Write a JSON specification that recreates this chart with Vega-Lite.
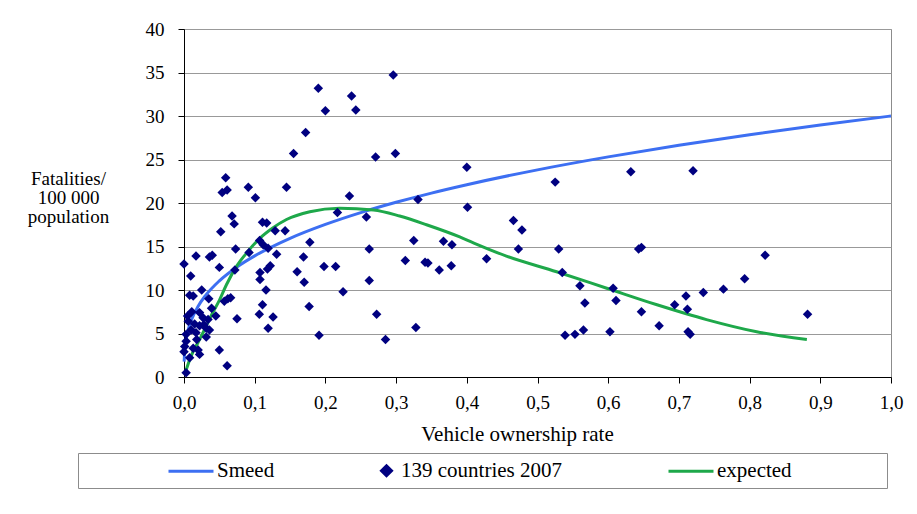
{
  "$schema": "https://vega.github.io/schema/vega-lite/v6.json",
  "width": 707,
  "height": 348,
  "autosize": "none",
  "padding": {"left": 184, "top": 29, "right": 26, "bottom": 137},
  "background": "white",
  "config": {
    "font": "Liberation Serif",
    "view": {"stroke": "#8c8c8c", "strokeWidth": 1},
    "axis": {
      "labelFont": "Liberation Serif",
      "titleFont": "Liberation Serif",
      "labelColor": "black",
      "titleColor": "black",
      "titleFontWeight": "normal",
      "domainColor": "black",
      "tickColor": "black",
      "tickSize": 6
    }
  },
  "datasets": {
    "smeed": [
      {"rate": 0.0002, "fatalities": 1.76},
      {"rate": 0.001, "fatalities": 3.0},
      {"rate": 0.003, "fatalities": 4.33},
      {"rate": 0.006, "fatalities": 5.45},
      {"rate": 0.01, "fatalities": 6.46},
      {"rate": 0.02, "fatalities": 8.14},
      {"rate": 0.03, "fatalities": 9.32},
      {"rate": 0.05, "fatalities": 11.05},
      {"rate": 0.075, "fatalities": 12.65},
      {"rate": 0.1, "fatalities": 13.92},
      {"rate": 0.15, "fatalities": 15.94},
      {"rate": 0.2, "fatalities": 17.54},
      {"rate": 0.25, "fatalities": 18.9},
      {"rate": 0.3, "fatalities": 20.08},
      {"rate": 0.35, "fatalities": 21.14},
      {"rate": 0.4, "fatalities": 22.1},
      {"rate": 0.5, "fatalities": 23.81},
      {"rate": 0.6, "fatalities": 25.3},
      {"rate": 0.7, "fatalities": 26.64},
      {"rate": 0.8, "fatalities": 27.85},
      {"rate": 0.9, "fatalities": 28.96},
      {"rate": 1.0, "fatalities": 30.0}
    ],
    "expected": [
      {"rate": 0.003, "fatalities": 0.8},
      {"rate": 0.01, "fatalities": 2.4},
      {"rate": 0.02, "fatalities": 4.0},
      {"rate": 0.03, "fatalities": 5.6},
      {"rate": 0.04, "fatalities": 7.3},
      {"rate": 0.05, "fatalities": 8.8},
      {"rate": 0.06, "fatalities": 10.6},
      {"rate": 0.075, "fatalities": 12.8},
      {"rate": 0.09, "fatalities": 14.4},
      {"rate": 0.108, "fatalities": 16.0},
      {"rate": 0.125, "fatalities": 17.1},
      {"rate": 0.145, "fatalities": 18.1},
      {"rate": 0.178, "fatalities": 19.0},
      {"rate": 0.22, "fatalities": 19.4},
      {"rate": 0.268, "fatalities": 19.2},
      {"rate": 0.305, "fatalities": 18.5},
      {"rate": 0.343, "fatalities": 17.5},
      {"rate": 0.39, "fatalities": 16.1},
      {"rate": 0.41, "fatalities": 15.4},
      {"rate": 0.456, "fatalities": 13.9},
      {"rate": 0.527, "fatalities": 12.1},
      {"rate": 0.598, "fatalities": 10.2},
      {"rate": 0.669, "fatalities": 8.3},
      {"rate": 0.739, "fatalities": 6.6},
      {"rate": 0.81, "fatalities": 5.2},
      {"rate": 0.881, "fatalities": 4.3}
    ],
    "countries": [
      {"rate": 0.296, "fatalities": 34.7}, {"rate": 0.19, "fatalities": 33.2}, {"rate": 0.237, "fatalities": 32.3},
      {"rate": 0.2, "fatalities": 30.6}, {"rate": 0.243, "fatalities": 30.7}, {"rate": 0.172, "fatalities": 28.1},
      {"rate": 0.155, "fatalities": 25.7}, {"rate": 0.271, "fatalities": 25.3}, {"rate": 0.299, "fatalities": 25.7},
      {"rate": 0.059, "fatalities": 22.9}, {"rate": 0.054, "fatalities": 21.2}, {"rate": 0.061, "fatalities": 21.5},
      {"rate": 0.091, "fatalities": 21.8}, {"rate": 0.101, "fatalities": 20.6}, {"rate": 0.145, "fatalities": 21.8},
      {"rate": 0.234, "fatalities": 20.8}, {"rate": 0.331, "fatalities": 20.4}, {"rate": 0.068, "fatalities": 18.5},
      {"rate": 0.071, "fatalities": 17.6}, {"rate": 0.052, "fatalities": 16.7}, {"rate": 0.111, "fatalities": 17.8},
      {"rate": 0.117, "fatalities": 17.7}, {"rate": 0.129, "fatalities": 16.8}, {"rate": 0.143, "fatalities": 16.8},
      {"rate": 0.217, "fatalities": 18.9}, {"rate": 0.258, "fatalities": 18.4}, {"rate": 0.325, "fatalities": 15.7},
      {"rate": 0.367, "fatalities": 15.6}, {"rate": 0.379, "fatalities": 15.2}, {"rate": 0.178, "fatalities": 15.5},
      {"rate": 0.107, "fatalities": 15.7}, {"rate": 0.112, "fatalities": 15.2}, {"rate": 0.119, "fatalities": 14.8},
      {"rate": 0.131, "fatalities": 14.1}, {"rate": 0.092, "fatalities": 14.3}, {"rate": 0.073, "fatalities": 14.7},
      {"rate": 0.169, "fatalities": 13.8}, {"rate": 0.262, "fatalities": 14.7}, {"rate": 0.313, "fatalities": 13.4},
      {"rate": 0.341, "fatalities": 13.2}, {"rate": 0.345, "fatalities": 13.1}, {"rate": 0.361, "fatalities": 12.3},
      {"rate": 0.378, "fatalities": 12.8}, {"rate": 0.072, "fatalities": 12.3}, {"rate": 0.1075, "fatalities": 12.0},
      {"rate": 0.118, "fatalities": 12.4}, {"rate": 0.122, "fatalities": 12.8}, {"rate": 0.16, "fatalities": 12.1},
      {"rate": 0.198, "fatalities": 12.7}, {"rate": 0.2145, "fatalities": 12.7}, {"rate": 0.17, "fatalities": 10.9},
      {"rate": 0.262, "fatalities": 11.1}, {"rate": 0.1075, "fatalities": 11.2}, {"rate": 0.116, "fatalities": 10.0},
      {"rate": 0.225, "fatalities": 9.8}, {"rate": 0.062, "fatalities": 9.0}, {"rate": 0.066, "fatalities": 9.1},
      {"rate": 0.057, "fatalities": 8.7}, {"rate": 0.111, "fatalities": 8.3}, {"rate": 0.177, "fatalities": 8.1},
      {"rate": 0.1065, "fatalities": 7.2}, {"rate": 0.126, "fatalities": 6.9}, {"rate": 0.2725, "fatalities": 7.2},
      {"rate": 0.119, "fatalities": 5.6}, {"rate": 0.328, "fatalities": 5.7}, {"rate": 0.191, "fatalities": 4.8},
      {"rate": 0.285, "fatalities": 4.3},
      {"rate": 0.0, "fatalities": 13.0}, {"rate": 0.017, "fatalities": 13.9}, {"rate": 0.036, "fatalities": 13.8},
      {"rate": 0.04, "fatalities": 14.0}, {"rate": 0.05, "fatalities": 12.6}, {"rate": 0.0095, "fatalities": 11.6},
      {"rate": 0.025, "fatalities": 10.0}, {"rate": 0.008, "fatalities": 9.4}, {"rate": 0.013, "fatalities": 9.3},
      {"rate": 0.035, "fatalities": 9.0}, {"rate": 0.039, "fatalities": 7.9}, {"rate": 0.011, "fatalities": 7.5},
      {"rate": 0.075, "fatalities": 6.7}, {"rate": 0.022, "fatalities": 7.4}, {"rate": 0.027, "fatalities": 6.8},
      {"rate": 0.034, "fatalities": 6.6}, {"rate": 0.006, "fatalities": 6.4}, {"rate": 0.015, "fatalities": 6.1},
      {"rate": 0.022, "fatalities": 5.9}, {"rate": 0.0315, "fatalities": 5.6}, {"rate": 0.036, "fatalities": 5.4},
      {"rate": 0.01, "fatalities": 5.4}, {"rate": 0.003, "fatalities": 4.9}, {"rate": 0.017, "fatalities": 5.1},
      {"rate": 0.0315, "fatalities": 4.6}, {"rate": 0.003, "fatalities": 4.1}, {"rate": 0.001, "fatalities": 3.5},
      {"rate": 0.013, "fatalities": 3.3}, {"rate": 0.02, "fatalities": 3.1}, {"rate": 0.022, "fatalities": 2.6},
      {"rate": 0.0, "fatalities": 2.9}, {"rate": 0.05, "fatalities": 3.1}, {"rate": 0.061, "fatalities": 1.3},
      {"rate": 0.003, "fatalities": 0.5},
      {"rate": 0.4, "fatalities": 24.1}, {"rate": 0.525, "fatalities": 22.4}, {"rate": 0.632, "fatalities": 23.6},
      {"rate": 0.72, "fatalities": 23.7}, {"rate": 0.401, "fatalities": 19.5}, {"rate": 0.466, "fatalities": 18.0},
      {"rate": 0.478, "fatalities": 16.9}, {"rate": 0.473, "fatalities": 14.7}, {"rate": 0.53, "fatalities": 14.7},
      {"rate": 0.643, "fatalities": 14.7}, {"rate": 0.647, "fatalities": 14.9}, {"rate": 0.822, "fatalities": 14.0},
      {"rate": 0.428, "fatalities": 13.6}, {"rate": 0.535, "fatalities": 12.0}, {"rate": 0.56, "fatalities": 10.5},
      {"rate": 0.607, "fatalities": 10.2}, {"rate": 0.611, "fatalities": 8.8}, {"rate": 0.567, "fatalities": 8.5},
      {"rate": 0.647, "fatalities": 7.5}, {"rate": 0.672, "fatalities": 5.9}, {"rate": 0.694, "fatalities": 8.3},
      {"rate": 0.71, "fatalities": 9.3}, {"rate": 0.712, "fatalities": 7.8}, {"rate": 0.7345, "fatalities": 9.7},
      {"rate": 0.763, "fatalities": 10.1}, {"rate": 0.793, "fatalities": 11.3}, {"rate": 0.882, "fatalities": 7.2},
      {"rate": 0.539, "fatalities": 4.8}, {"rate": 0.553, "fatalities": 4.9}, {"rate": 0.565, "fatalities": 5.4},
      {"rate": 0.6025, "fatalities": 5.2}, {"rate": 0.713, "fatalities": 5.2}, {"rate": 0.716, "fatalities": 4.9},
      {"rate": 0.005, "fatalities": 7.0}, {"rate": 0.028, "fatalities": 6.0}, {"rate": 0.018, "fatalities": 4.3},
      {"rate": 0.045, "fatalities": 7.0}, {"rate": 0.008, "fatalities": 2.2}
    ]
  },
  "encoding": {
    "x": {
      "field": "rate",
      "type": "quantitative",
      "scale": {"domain": [0, 1], "nice": false},
      "axis": {
        "values": [0, 0.1, 0.2, 0.3, 0.4, 0.5, 0.6, 0.7, 0.8, 0.9, 1.0],
        "labelExpr": "replace(format(datum.value, '.1f'), '.', ',')",
        "labelFlush": false,
        "grid": false,
        "labelFontSize": 19,
        "labelPadding": 10,
        "title": "Vehicle ownership rate",
        "titleFontSize": 21,
        "titleX": 333,
        "titleY": 63,
        "titleAlign": "center",
        "titleBaseline": "alphabetic"
      }
    },
    "y": {
      "field": "fatalities",
      "type": "quantitative",
      "scale": {"domain": [0, 40], "nice": false},
      "axis": {
        "values": [0, 5, 10, 15, 20, 25, 30, 35, 40],
        "grid": true,
        "gridColor": "#999999",
        "labelFontSize": 19,
        "labelPadding": 14,
        "title": ["Fatalities/", "100 000", "population"],
        "titleFontSize": 19,
        "titleAngle": 0,
        "titleLineHeight": 19,
        "titleAlign": "center",
        "titleBaseline": "alphabetic",
        "titleX": -116,
        "titleY": 155
      }
    }
  },
  "layer": [
    {
      "data": {"name": "smeed"},
      "mark": {"type": "line", "strokeWidth": 3, "interpolate": "monotone"},
      "encoding": {
        "color": {
          "datum": "Smeed",
          "type": "nominal",
          "scale": {
            "domain": ["Smeed", "139 countries 2007", "expected"],
            "range": ["#3d6ff2", "#000080", "#1ea84a"]
          },
          "legend": {
            "orient": "none",
            "legendX": -106,
            "legendY": 424,
            "direction": "horizontal",
            "columns": 3,
            "columnPadding": 100,
            "gridAlign": "each",
            "symbolSize": 400,
            "labelOffset": 3,
            "labelFont": "Liberation Serif",
            "labelFontSize": 21,
            "labelColor": "black",
            "labelLimit": 400,
            "labelExpr": "datum.label === 'expected' ? 'expected\u00a0\u00a0\u00a0\u00a0\u00a0\u00a0\u00a0\u00a0\u00a0\u00a0\u00a0\u00a0\u00a0\u00a0\u00a0\u00a0\u00a0\u200b' : datum.label",
            "padding": 6,
            "strokeColor": "#8c8c8c",
            "fillColor": "white",
            "title": "\u00a0\u200b",
            "titleOrient": "left",
            "titlePadding": 107,
            "titleFontSize": 20,
            "encode": {
              "symbols": {
                "update": {
                  "shape": {"signal": "datum.value === '139 countries 2007' ? 'M-0.5,0L0,-0.5L0.5,0L0,0.5Z' : 'M-3.4,0L1.1,0'"},
                  "fill": {"signal": "datum.value === '139 countries 2007' ? '#000080' : 'transparent'"},
                  "stroke": {"signal": "datum.value === 'Smeed' ? '#3d6ff2' : (datum.value === 'expected' ? '#1ea84a' : 'transparent')"},
                  "strokeWidth": {"value": 3},
                  "opacity": {"value": 1}
                }
              }
            }
          }
        }
      }
    },
    {
      "data": {"name": "expected"},
      "mark": {"type": "line", "strokeWidth": 3, "interpolate": "monotone"},
      "encoding": {
        "color": {"datum": "expected", "type": "nominal"}
      }
    },
    {
      "data": {"name": "countries"},
      "mark": {"type": "point", "shape": "diamond", "filled": true, "size": 90, "opacity": 1},
      "encoding": {
        "color": {"datum": "139 countries 2007", "type": "nominal"}
      }
    }
  ]
}
